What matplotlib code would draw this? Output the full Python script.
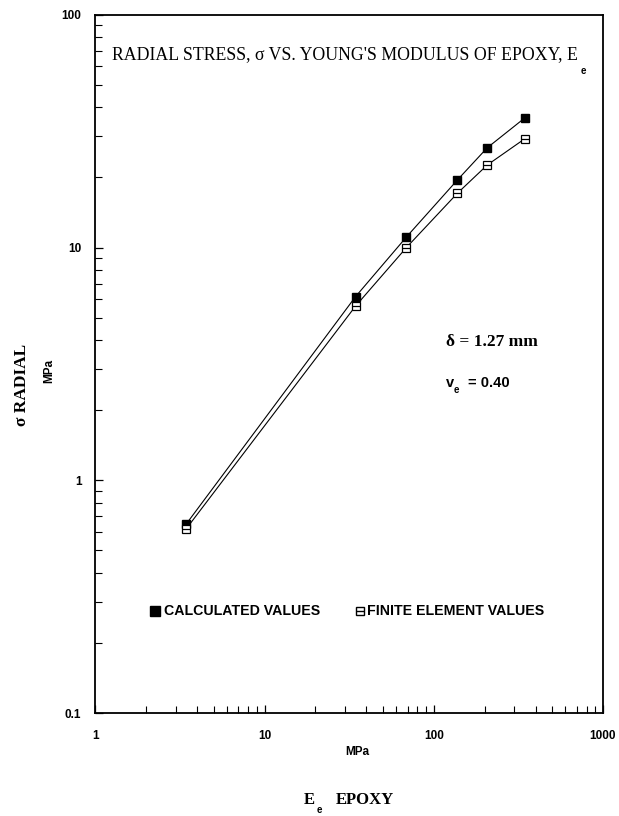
import numpy as np
import matplotlib
matplotlib.use("Agg")
import matplotlib.pyplot as plt
from matplotlib.ticker import LogLocator, NullFormatter, FixedLocator, FixedFormatter

# Young's modulus of epoxy, MPa
modulus = [3.45, 34.5, 69.0, 138.0, 207.0, 345.0]
calculated = [0.65, 6.15, 11.1, 19.5, 26.8, 36.0]
finite_element = [0.62, 5.6, 10.0, 17.1, 22.6, 29.3]

x_ticks = [1, 10, 100, 1000]
x_tick_labels = ["1", "10", "100", "1000"]
y_ticks = [0.1, 1, 10, 100]
y_tick_labels = ["0.1", "1", "10", "100"]

serif = ["Liberation Serif", "DejaVu Serif"]
sans = ["Liberation Sans", "DejaVu Sans"]

fig = plt.figure(figsize=(6.19, 8.16), dpi=100)
ax = fig.add_axes([0.154, 0.126, 0.820, 0.856])

ax.plot(modulus, calculated, color="black", lw=0.8, marker="s", ms=6,
        mfc="black", mec="black")
ax.plot(modulus, finite_element, color="black", lw=0.8, marker="s", ms=6,
        mfc="white", mec="black", mew=0.9)
ax.plot(modulus, finite_element, ls="none", marker="_", ms=6, mec="black", mew=0.9)

ax.set_xscale("log")
ax.set_yscale("log")
ax.set_xlim(1, 1000)
ax.set_ylim(0.1, 100)

ax.xaxis.set_major_locator(FixedLocator(x_ticks))
ax.xaxis.set_major_formatter(FixedFormatter(x_tick_labels))
ax.yaxis.set_major_locator(FixedLocator(y_ticks))
ax.yaxis.set_major_formatter(FixedFormatter(y_tick_labels))
for axis in (ax.xaxis, ax.yaxis):
    axis.set_minor_locator(LogLocator(base=10, subs=np.arange(2, 10)))
    axis.set_minor_formatter(NullFormatter())

ax.tick_params(which="both", direction="in", top=False, right=False)
ax.tick_params(which="major", length=6, width=0.9)
ax.tick_params(which="minor", length=5, width=0.8)
ax.tick_params(axis="x", pad=12)
ax.tick_params(axis="y", pad=10)
for lab in ax.get_xticklabels() + ax.get_yticklabels():
    lab.set_fontfamily(sans)
    lab.set_fontweight("bold")
    lab.set_fontsize(8.5)
for sp in ax.spines.values():
    sp.set_linewidth(1.3)

title = ax.text(0.033, 0.943, "RADIAL STRESS, σ VS. YOUNG'S MODULUS OF EPOXY, E",
                transform=ax.transAxes, fontsize=12.8, family=serif,
                ha="left", va="center")
ax.annotate("e", xy=(1, 0), xycoords=title, xytext=(2, -6), textcoords="offset points",
            fontsize=7, family=sans, fontweight="bold", ha="left", va="center")

ax.text(0.69, 0.532, "δ = 1.27 mm", transform=ax.transAxes, fontsize=12.5,
        family=serif, fontweight="bold", ha="left", va="center")
ax.text(0.69, 0.473, "v", transform=ax.transAxes, fontsize=10.5,
        family=sans, fontweight="bold", ha="left", va="center")
ax.text(0.705, 0.462, "e", transform=ax.transAxes, fontsize=7,
        family=sans, fontweight="bold", ha="left", va="center")
ax.text(0.735, 0.473, "= 0.40", transform=ax.transAxes, fontsize=10.5,
        family=sans, fontweight="bold", ha="left", va="center")

# legend row
ax.plot([0.118], [0.146], transform=ax.transAxes, marker="s", ms=6.5, color="black",
        ls="none", clip_on=False)
ax.text(0.135, 0.146, "CALCULATED VALUES", transform=ax.transAxes, fontsize=10.2,
        family=sans, fontweight="bold", ha="left", va="center")
ax.plot([0.522], [0.146], transform=ax.transAxes, marker="s", ms=6, mfc="white",
        mec="black", ls="none", clip_on=False)
ax.plot([0.522], [0.146], transform=ax.transAxes, marker="_", ms=6, mec="black",
        ls="none", clip_on=False)
ax.text(0.535, 0.146, "FINITE ELEMENT VALUES", transform=ax.transAxes, fontsize=10.2,
        family=sans, fontweight="bold", ha="left", va="center")

fig.text(0.577, 0.078, "MPa", fontsize=8.5, family=sans, fontweight="bold",
         ha="center", va="center")
fig.text(0.49, 0.019, "E", fontsize=12, family=serif, fontweight="bold",
         ha="left", va="center")
fig.text(0.512, 0.007, "e", fontsize=7, family=sans, fontweight="bold",
         ha="left", va="center")
fig.text(0.543, 0.019, "EPOXY", fontsize=12, family=serif, fontweight="bold",
         ha="left", va="center")

fig.text(0.035, 0.528, "σ RADIAL", fontsize=12.5, family=serif, fontweight="bold",
         rotation=90, ha="center", va="center")
fig.text(0.08, 0.545, "MPa", fontsize=8.5, family=sans, fontweight="bold",
         rotation=90, ha="center", va="center")

fig.savefig("out.png", dpi=100)
